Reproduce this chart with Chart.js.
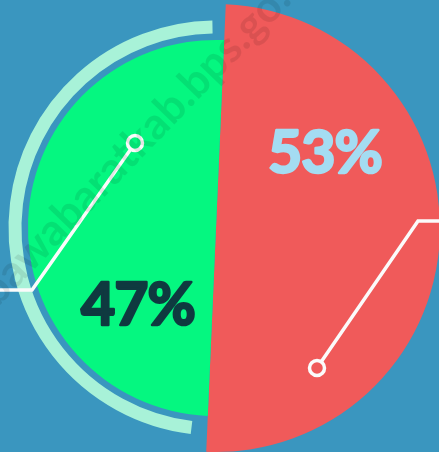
<!DOCTYPE html>
<html><head><meta charset="utf-8">
<script src="https://cdn.jsdelivr.net/npm/chart.js@4/dist/chart.umd.min.js"></script>
<style>
html,body{margin:0;padding:0;width:439px;height:452px;overflow:hidden;background:#3a96bf;}
#wrap{position:absolute;left:-14px;top:-2px;width:460px;height:460px;}
</style></head><body>
<div id="wrap"><canvas id="c"></canvas></div>
<script>
const categories = ['Bagian 1', 'Bagian 2'];
const values = [53, 47];
const sliceColors = ['#f05a5a', '#05f780'];
const labelColors = ['#a4dcf2', '#0f3a40'];
const watermarkHead = 'sumba';
const watermarkTail = 'wabaratkab.bps.go.id';

const deco = {
  id: 'deco',
  afterDatasetsDraw(chart) {
    const ctx = chart.ctx;
    const s = chart.scales.r;
    const cx = s.xCenter, cy = s.yCenter;
    const rad = d => d * Math.PI / 180;
    ctx.save();
    // mint ring around the green half
    ctx.beginPath();
    ctx.arc(cx, cy, 201, rad(97), rad(269));
    ctx.lineWidth = 13;
    ctx.strokeStyle = '#a8f2d8';
    ctx.lineCap = 'butt';
    ctx.stroke();

    // callouts
    ctx.strokeStyle = '#fbfbfb';
    ctx.lineWidth = 3.5;
    ctx.lineJoin = 'miter';
    function callout(px, py, ex, ey, endX) {
      const dx = ex - px, dy = ey - py, L = Math.hypot(dx, dy);
      const r = 7.5;
      ctx.beginPath();
      ctx.arc(px, py, r, 0, Math.PI * 2);
      ctx.stroke();
      ctx.beginPath();
      ctx.moveTo(px + dx / L * r, py + dy / L * r);
      ctx.lineTo(ex, ey);
      ctx.lineTo(endX, ey);
      ctx.stroke();
    }
    callout(cx - 81, cy - 85, cx - 184, cy + 62, -5);
    callout(cx + 101, cy + 140, cx + 202, cy - 7, chart.width + 5);

    // value labels
    ctx.font = 'bold 59px Lato';
    ctx.textAlign = 'center';
    ctx.textBaseline = 'alphabetic';
    ctx.lineWidth = 2.5;
    ctx.lineJoin = 'round';
    try { ctx.letterSpacing = '-1px'; } catch (e) {}
    const pos = [[cx + 109, cy - 55], [cx - 78, cy + 97]];
    values.forEach((v, i) => {
      ctx.fillStyle = labelColors[i];
      ctx.strokeStyle = labelColors[i];
      ctx.fillText(v + '%', pos[i][0], pos[i][1]);
      ctx.strokeText(v + '%', pos[i][0], pos[i][1]);
    });
    try { ctx.letterSpacing = '0px'; } catch (e) {}

    // watermark
    ctx.translate(cx - 186, cy + 46);
    ctx.rotate(rad(-46));
    ctx.font = 'bold 44px Lato';
    ctx.fillStyle = 'rgba(0,0,0,0.09)';
    ctx.textAlign = 'right';
    ctx.fillText(watermarkHead, 0, 0);
    ctx.textAlign = 'left';
    ctx.fillText(watermarkTail, 0, 0);
    ctx.restore();
  }
};

new Chart(document.getElementById('c'), {
  type: 'polarArea',
  data: {
    labels: categories,
    datasets: [{ data: values, backgroundColor: sliceColors, borderWidth: 0 }]
  },
  options: {
    responsive: true,
    maintainAspectRatio: false,
    animation: false,
    events: [],
    layout: { padding: 0 },
    plugins: { legend: { display: false }, tooltip: { enabled: false } },
    scales: {
      r: {
        min: 15.6, max: 54, startAngle: 2.5,
        ticks: { display: false },
        grid: { display: false },
        angleLines: { display: false },
        pointLabels: { display: false }
      }
    }
  },
  plugins: [deco]
});
</script>
</body></html>
